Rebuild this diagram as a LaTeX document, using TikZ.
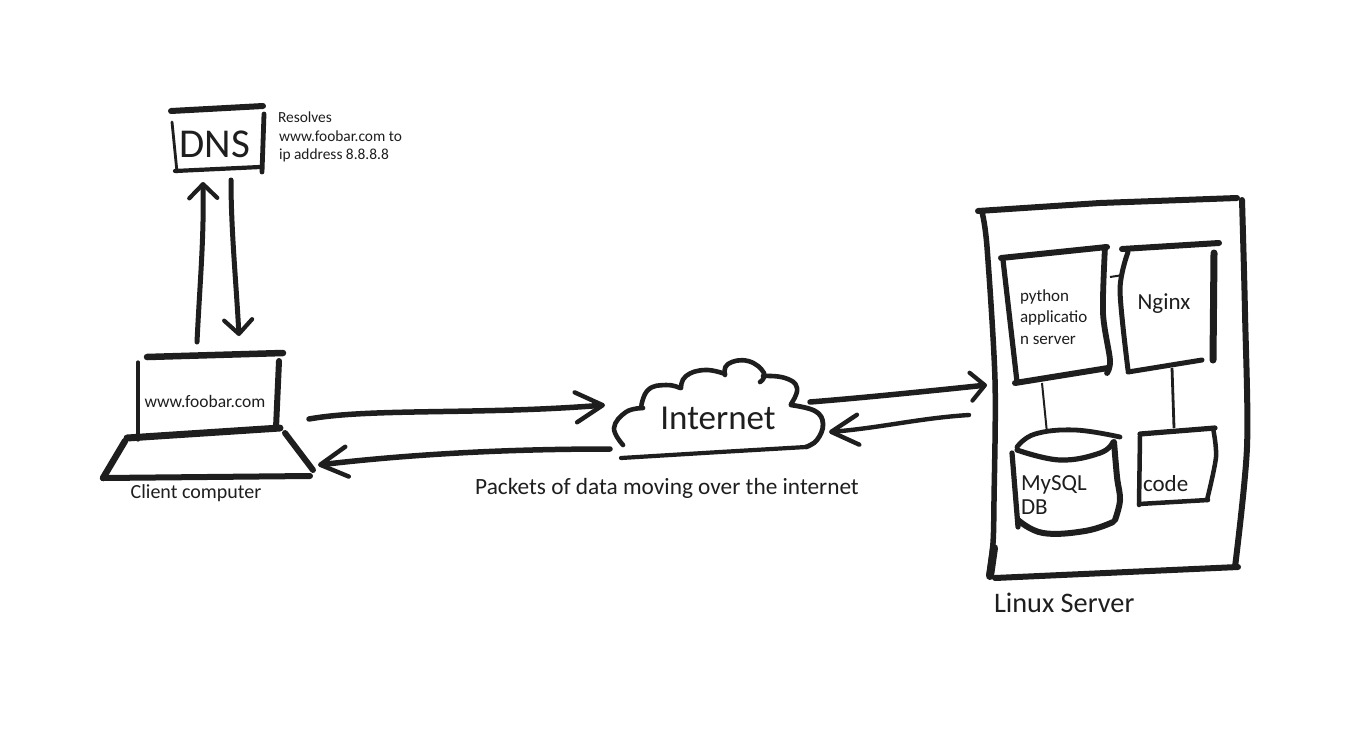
\documentclass[tikz,border=0pt]{standalone}
\usepackage{fontspec}
\setmainfont{Carlito}
\usetikzlibrary{arrows.meta}
\newcommand{\fsz}[1]{\fontsize{#1}{#1}\selectfont}
\definecolor{ink}{HTML}{1E1E1E}
\tikzset{
  sk/.style={draw=ink,line width=#1,line cap=round,line join=round},
  sk/.default=5pt,
  thin link/.style={draw=ink,line width=2pt},
  arrow link/.style={draw=ink,line width=#1,line cap=round,line join=round,
    -{Straight Barb[length=14pt,width=28pt,line width=4.2pt,round]}},
  arrow link/.default=5.5pt,
  long head/.style={draw=ink,line width=#1,line cap=round,line join=round,
    -{Straight Barb[length=27pt,width=30pt,line width=4.4pt,round]}},
  lbl/.style={text=ink,inner sep=0pt,outer sep=0pt},
}
\begin{document}
\begin{tikzpicture}[x=1pt,y=-1pt]
\useasboundingbox[fill=white] (0,0) rectangle (1348,731);

% ---- DNS ----
\node[lbl,font=\fsz{41}] (dns) at (215,144) {DNS};
\draw[sk=6pt] (171,111) -- (263,106);
\draw[sk=2.8pt] (172,122) -- (177,172);
\draw[sk=4.8pt] (264,114) -- (262,172);
\draw[sk=4.2pt] (175,171) -- (260,167);
\node[lbl,font=\fsz{15.4},anchor=west,align=left] (resolves) at (278,137)
  {Resolves\\[3pt]\hspace{1pt}www.foobar.com to\\[3pt]\hspace{1pt}ip address 8.8.8.8};

% ---- Client computer ----
\node[lbl,font=\fsz{17.5}] (site) at (205,401) {www.foobar.com};
\node[lbl,font=\fsz{20}] (client) at (196,493) {Client computer};
\draw[sk=6.5pt] (147,357) -- (283,353);
\draw[sk=3.2pt] (138,362) -- (138,440);
\draw[sk=6pt] (279,361) -- (276,428);
\draw[sk=7pt] (127,438) -- (280,428);
\draw[sk=6.5pt] (125,441) -- (103,478);
\draw[sk=6pt] (103,478) -- (310,476);
\draw[sk=6pt] (285,433) -- (313,470);

% ---- Internet ----
\node[lbl,font=\fsz{35}] (internet) at (718,418) {Internet};
\draw[sk=4.6pt] plot[smooth,tension=0.7] coordinates {(623,445) (614,428) (626,412) (643,408)};
\draw[sk=4.6pt] plot[smooth,tension=0.8] coordinates {(641,408) (648,390) (666,385) (680,388)};
\draw[sk=4.6pt] plot[smooth,tension=0.8] coordinates {(681,388) (686,376) (705,370) (725,374)};
\draw[sk=4.6pt] plot[smooth,tension=0.8] coordinates {(725,375) (728,364) (748,361) (764,373) (760,382)};
\draw[sk=4.6pt] plot[smooth,tension=0.8] coordinates {(763,376) (785,378) (797,388) (791,404)};
\draw[sk=4.8pt] plot[smooth,tension=0.7] coordinates {(791,405) (815,411) (823,424) (817,440) (806,447)};
\draw[sk=4.2pt] (806,447) -- (720,452) -- (621,458);
\node[lbl,font=\fsz{23.3}] (packets) at (667,488) {Packets of data moving over the internet};

% ---- Linux server ----
\draw[sk=6pt] (978,211) -- (1100,203) -- (1237,198);
\draw[sk=6pt] plot[smooth,tension=0.5] coordinates {(1242,200) (1245,313) (1247,447) (1235,567)};
\draw[sk=6pt] (1238,567) -- (995,578);
\draw[sk=5.5pt] plot[smooth,tension=0.5] coordinates {(982,212) (987,247) (995,380) (994,500) (993,543) (989,575)};
\draw[sk=8pt] (994,548) -- (990,576);
\node[lbl,font=\fsz{28.3},anchor=west] (linux) at (994,603) {Linux Server};

% python application server
\draw[sk=6pt] (1001,258) -- (1107,247);
\draw[sk=5.2pt] (1003,260) -- (1017,382);
\draw[sk=6pt] (1015,383) -- (1108,368);
\draw[sk=5.8pt] plot[smooth,tension=0.5] coordinates {(1105,247) (1103,313) (1110,360) (1107,373)};
\node[lbl,font=\fsz{17},anchor=west,align=left] (python) at (1020,317)
  {python\\[4.5pt]applicatio\\[4.5pt]n server};

% Nginx
\draw[sk=6pt] (1122,249) -- (1219,243);
\draw[sk=5pt] plot[smooth,tension=0.5] coordinates {(1128,252) (1120,290) (1128,370)};
\draw[sk=5pt] (1128,372) -- (1202,360);
\draw[sk=7pt] (1214,253) -- (1213,360);
\node[lbl,font=\fsz{23}] (nginx) at (1164,304) {Nginx};

% MySQL DB
\draw[sk=4.8pt] plot[smooth,tension=0.7] coordinates {(1017,447) (1035,434) (1075,430) (1120,437)};
\draw[sk=5.2pt] plot[smooth,tension=0.7] coordinates {(1017,450) (1060,460) (1100,453) (1113,442)};
\draw[sk=5.2pt] (1012,453) -- (1018,527);
\draw[sk=6pt] plot[smooth,tension=0.6] coordinates {(1114,442) (1117,477) (1120,500) (1115,520)};
\draw[sk=6pt] plot[smooth,tension=0.7] coordinates {(1018,520) (1043,533) (1085,531) (1113,522)};
\node[lbl,font=\fsz{23},anchor=west,align=left] (db) at (1021,495) {MySQL\\[1pt]DB};

% code
\draw[sk=5.2pt] (1140,434) -- (1215,428);
\draw[sk=4.5pt] (1140,435) -- (1139,505);
\draw[sk=4.5pt] (1139,504) -- (1208,500);
\draw[sk=4.5pt] plot[smooth,tension=0.5] coordinates {(1213,428) (1216,457) (1207,500)};
\node[lbl,font=\fsz{23},anchor=west] (code) at (1143,484) {code};

% ---- connector end points ----
\coordinate (dnsUpEnd) at (203,182);
\coordinate (dnsUpStart) at (197,342);
\coordinate (dnsDownStart) at (231,180);
\coordinate (dnsDownEnd) at (239,336);
\coordinate (clientOut) at (309,419);
\coordinate (netIn) at (605,405);
\coordinate (netOut) at (610,449);
\coordinate (clientIn) at (318,465);
\coordinate (netToServer) at (810,402);
\coordinate (serverIn) at (987,385);
\coordinate (serverOut) at (969,415);
\coordinate (serverToNet) at (829,432);
\coordinate (pyLinkA) at (1110,277);
\coordinate (pyLinkB) at (1123,275);
\coordinate (pyDbA) at (1042,383);
\coordinate (pyDbB) at (1047,433);
\coordinate (ngCodeA) at (1172,368);
\coordinate (ngCodeB) at (1174,428);

% ---- connectors ----
\draw[arrow link=5pt] (dnsUpStart) .. controls (200,280) and (204,240) .. (dnsUpEnd);
\draw[arrow link=5pt] (dnsDownStart) .. controls (231,230) and (236,280) .. (dnsDownEnd);
\draw[long head=5.5pt] (clientOut) .. controls (370,408) and (480,415) .. (netIn);
\draw[long head=5.5pt] (netOut) .. controls (530,449) and (430,452) .. (clientIn);
\draw[arrow link=5.5pt] (netToServer) .. controls (860,398) and (920,392) .. (serverIn);
\draw[long head=4.4pt] (serverOut) .. controls (920,418) and (880,428) .. (serverToNet);
\draw[thin link] (pyLinkA) -- (pyLinkB);
\draw[thin link] (pyDbA) -- (pyDbB);
\draw[thin link,line width=2.8pt] (ngCodeA) -- (ngCodeB);
\end{tikzpicture}
\end{document}
